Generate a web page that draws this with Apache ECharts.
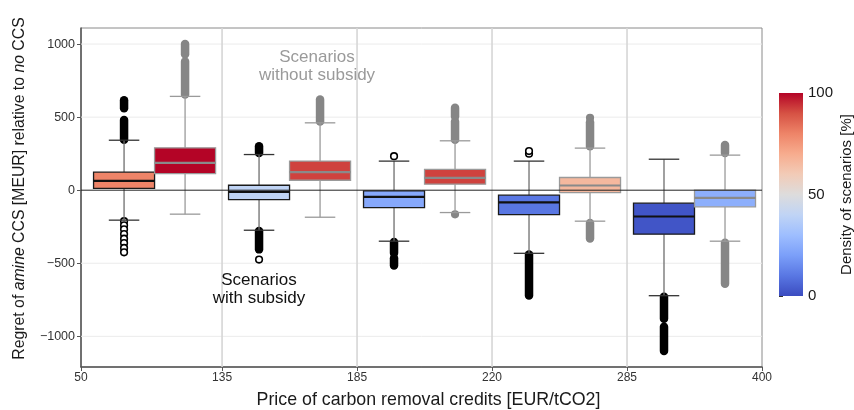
<!DOCTYPE html>
<html>
<head>
<meta charset="utf-8">
<script src="https://cdn.jsdelivr.net/npm/echarts@6/dist/echarts.min.js"></script>
<style>
  html, body { margin: 0; padding: 0; background: #fff; }
  #chart { width: 854px; height: 410px; }
</style>
</head>
<body>
<div id="chart"></div>
<script>
// Price bands of carbon removal credits (band edges, EUR/tCO2)
const priceTicks = [50, 135, 185, 220, 285, 400];

// Box statistics per price band: [lower whisker, Q1, median, Q3, upper whisker] (MEUR)
const withSubsidy = [
  [-205, 12, 64, 123, 342],
  [-274, -64, -11, 34, 244],
  [-349, -119, -46, -5, 199],
  [-432, -167, -84, -34, 199],
  [-722, -301, -180, -89, 212]
];
const withoutSubsidy = [
  [-164, 114, 187, 290, 642],
  [-185, 68, 123, 199, 461],
  [-153, 41, 84, 142, 338],
  [-212, -16, 32, 87, 288],
  [-349, -114, -53, 0, 240]
];

// Density of scenarios [%] per box
const densityWith = [80, 40, 23, 10, 2];
const densityWithout = [100, 92, 92, 66, 25];

// Outliers per band: [from, to] spans of densely packed points; single points have from == to
const outliersWith = [
  [[345, 480], [560, 615], [-212, -212], [-240, -240], [-268, -268], [-300, -300], [-332, -332], [-362, -362], [-395, -395], [-425, -425]],
  [[255, 300], [-280, -405], [-475, -475]],
  [[233, 233], [-355, -430], [-465, -515]],
  [[250, 250], [268, 268], [-440, -720]],
  [[-730, -880], [-935, -1100]]
];
const outliersWithout = [
  [[655, 880], [930, 1000]],
  [[470, 620]],
  [[345, 470], [505, 565], [-165, -165]],
  [[300, 465], [495, 495], [-225, -330]],
  [[255, 310], [-360, -640]]
];

const yTickValues = [-1000, -500, 0, 500, 1000];
const colorbarTicks = [0, 50, 100];

// Colour map (cool-to-warm, low to high density)
const coolwarm = ['#3b4cc0', '#5977e3', '#7b9ff9', '#9ebeff', '#c0d4f5', '#dddcdc',
                  '#f2cbb7', '#f7ac8e', '#ee8468', '#d65244', '#b40426'];

const FONT = 'Liberation Sans, Arial, sans-serif';
const BOX_HALF = 0.226;      // half box width in band units
const X_MIN = -0.045;        // axis starts a little left of the first band

function boxData(stats, density) {
  return stats.map((s, i) => [i].concat(s, [density[i]]));
}
function outlierData(spans) {
  const out = [];
  spans.forEach((list, i) => list.forEach(sp => out.push([i, sp[0], sp[1]])));
  return out;
}

function boxRenderer(side, look) {
  return function (params, api) {
    const band = api.value(0);
    const xc = band + 0.5 + side * BOX_HALF;
    const half = api.size([BOX_HALF, 0])[0];
    const lo = api.coord([xc, api.value(1)]);
    const q1 = api.coord([xc, api.value(2)]);
    const md = api.coord([xc, api.value(3)]);
    const q3 = api.coord([xc, api.value(4)]);
    const hi = api.coord([xc, api.value(5)]);
    const cx = lo[0];
    const cap = half * 0.5;
    const fill = echarts.color.lerp(api.value(6) / 100, coolwarm);
    const ln = (x1, y1, x2, y2, color, w) => ({
      type: 'line', shape: { x1, y1, x2, y2 },
      style: { stroke: color, lineWidth: w }
    });
    return {
      type: 'group',
      children: [
        ln(cx, q3[1], cx, hi[1], look.whisker, 1.3),
        ln(cx, q1[1], cx, lo[1], look.whisker, 1.3),
        ln(cx - cap, hi[1], cx + cap, hi[1], look.cap, 1.3),
        ln(cx - cap, lo[1], cx + cap, lo[1], look.cap, 1.3),
        {
          type: 'rect',
          shape: { x: cx - half, y: q3[1], width: half * 2, height: q1[1] - q3[1] },
          style: { fill: fill, stroke: look.edge, lineWidth: 1.3 }
        },
        ln(cx - half, md[1], cx + half, md[1], look.median, 2.2)
      ]
    };
  };
}

function outlierRenderer(side, look) {
  return function (params, api) {
    const band = api.value(0);
    const xc = band + 0.5 + side * BOX_HALF;
    const a = api.coord([xc, api.value(1)]);
    const b = api.coord([xc, api.value(2)]);
    if (api.value(1) === api.value(2)) {
      return {
        type: 'circle',
        shape: { cx: a[0], cy: a[1], r: 3.3 },
        style: { fill: look.fill, stroke: look.stroke, lineWidth: 1.6 }
      };
    }
    return {
      type: 'line',
      shape: { x1: a[0], y1: a[1], x2: b[0], y2: b[1] },
      style: { stroke: look.stroke, lineWidth: 8.5, lineCap: 'round' }
    };
  };
}

const withLook = { edge: '#1a1a1a', median: '#111', whisker: '#6e6e6e', cap: '#333' };
const withoutLook = { edge: '#9a9a9a', median: '#8a8a8a', whisker: '#9a9a9a', cap: '#9a9a9a' };

const chart = echarts.init(document.getElementById('chart'), null, { renderer: 'canvas' });

const option = {
  animation: false,
  backgroundColor: '#fff',
  textStyle: { fontFamily: FONT },
  grid: [
    { left: 81, top: 28, width: 681, height: 339, show: true, borderColor: '#8a8a8a', borderWidth: 1,
      containLabel: false, outerBoundsMode: 'none' },
    { left: 779, top: 93, width: 24, height: 203, containLabel: false, outerBoundsMode: 'none' }
  ],
  xAxis: [
    {
      type: 'value', gridIndex: 0, min: X_MIN, max: 5,
      name: 'Price of carbon removal credits [EUR/tCO2]',
      nameLocation: 'middle', nameGap: 24,
      nameTextStyle: { fontSize: 17.8, color: '#1a1a1a', fontFamily: FONT, padding: [0, 0, 0, 14] },
      axisLine: { show: true, onZero: false, lineStyle: { color: '#555', width: 1.5 } },
      axisTick: { show: true, length: 4, customValues: [X_MIN, 1, 2, 3, 4, 5], lineStyle: { color: '#555' } },
      axisLabel: {
        customValues: [X_MIN, 1, 2, 3, 4, 5],
        fontSize: 12, color: '#333', margin: 5,
        fontFamily: 'Liberation Sans Narrow, Arial Narrow, ' + FONT,
        formatter: v => String(priceTicks[Math.max(0, Math.round(v))])
      },
      splitLine: { show: false }
    },
    { type: 'value', gridIndex: 1, min: 0, max: 1, show: false }
  ],
  yAxis: [
    {
      type: 'value', gridIndex: 0, min: -1210, max: 1110,
      name: '{n|Regret of }{i|amine}{n| CCS [MEUR] relative to }{i|no}{n| CCS}',
      nameLocation: 'middle', nameRotate: 90, nameGap: 53,
      nameTextStyle: {
        color: '#1a1a1a',
        padding: [0, 0, 0, 18],
        rich: {
          n: { fontSize: 15.8, fontFamily: FONT, color: '#1a1a1a' },
          i: { fontSize: 15.8, fontFamily: FONT, fontStyle: 'italic', color: '#1a1a1a' }
        }
      },
      axisLine: { show: true, onZero: false, lineStyle: { color: '#555', width: 1.5 } },
      axisTick: { show: true, length: 4, customValues: yTickValues, lineStyle: { color: '#555' } },
      axisLabel: {
        customValues: yTickValues,
        fontSize: 12.5, color: '#333', margin: 6,
        formatter: v => String(v).replace('-', '\u2212')
      },
      splitLine: { show: false }
    },
    {
      type: 'value', gridIndex: 1, min: 0, max: 100, interval: 50, position: 'right',
      name: 'Density of scenarios [%]', nameLocation: 'middle', nameRotate: 90, nameGap: 36,
      nameTextStyle: { fontSize: 15, color: '#1a1a1a', fontFamily: FONT },
      axisLine: { show: false },
      axisTick: { show: true, length: 4, lineStyle: { color: '#333' } },
      axisLabel: { fontSize: 15, color: '#1a1a1a', margin: 5 },
      splitLine: { show: false }
    }
  ],
  series: [
    // horizontal grid lines
    {
      type: 'custom', xAxisIndex: 0, yAxisIndex: 0, z: 1, silent: true,
      data: yTickValues.filter(v => v !== 0).map(v => [v]),
      encode: { y: 0 },
      renderItem: (params, api) => {
        const y = api.coord([0, api.value(0)])[1];
        const cs = params.coordSys;
        return { type: 'line', shape: { x1: cs.x, y1: y, x2: cs.x + cs.width, y2: y },
                 style: { stroke: '#ebebeb', lineWidth: 1 } };
      }
    },
    // vertical lines at price band edges
    {
      type: 'custom', xAxisIndex: 0, yAxisIndex: 0, z: 1, silent: true,
      data: [1, 2, 3, 4].map(v => [v]),
      encode: { x: 0 },
      renderItem: (params, api) => {
        const x = api.coord([api.value(0), 0])[0];
        const cs = params.coordSys;
        return { type: 'line', shape: { x1: x, y1: cs.y, x2: x, y2: cs.y + cs.height },
                 style: { stroke: '#d6d6d6', lineWidth: 1.6 } };
      }
    },
    // outliers
    {
      type: 'custom', name: 'outliers with subsidy', xAxisIndex: 0, yAxisIndex: 0, z: 2,
      data: outlierData(outliersWith), encode: { x: 0, y: [1, 2] },
      renderItem: outlierRenderer(-1, { fill: '#fff', stroke: '#000' })
    },
    {
      type: 'custom', name: 'outliers without subsidy', xAxisIndex: 0, yAxisIndex: 0, z: 2,
      data: outlierData(outliersWithout), encode: { x: 0, y: [1, 2] },
      renderItem: outlierRenderer(1, { fill: '#868686', stroke: '#868686' })
    },
    // boxes
    {
      type: 'custom', name: 'with subsidy', xAxisIndex: 0, yAxisIndex: 0, z: 3,
      data: boxData(withSubsidy, densityWith), encode: { x: 0, y: [1, 2, 3, 4, 5] },
      renderItem: boxRenderer(-1, withLook)
    },
    {
      type: 'custom', name: 'without subsidy', xAxisIndex: 0, yAxisIndex: 0, z: 3,
      data: boxData(withoutSubsidy, densityWithout), encode: { x: 0, y: [1, 2, 3, 4, 5] },
      renderItem: boxRenderer(1, withoutLook)
    },
    // zero line
    {
      type: 'custom', xAxisIndex: 0, yAxisIndex: 0, z: 4, silent: true,
      data: [[0]], encode: { y: 0 },
      renderItem: (params, api) => {
        const y = api.coord([0, api.value(0)])[1];
        const cs = params.coordSys;
        return { type: 'line', shape: { x1: cs.x, y1: y, x2: cs.x + cs.width, y2: y },
                 style: { stroke: '#222', lineWidth: 1 } };
      }
    },
    // colour bar
    {
      type: 'custom', xAxisIndex: 1, yAxisIndex: 1, z: 2, silent: true,
      data: [[0, colorbarTicks[0], colorbarTicks[colorbarTicks.length - 1]]],
      encode: { x: 0, y: [1, 2] },
      renderItem: (params, api) => {
        const bottom = api.coord([0, api.value(1)]);
        const top = api.coord([1, api.value(2)]);
        const stops = coolwarm.map((c, i) => ({ offset: 1 - i / (coolwarm.length - 1), color: c }));
        stops.reverse();
        return {
          type: 'rect',
          shape: { x: bottom[0], y: top[1], width: top[0] - bottom[0], height: bottom[1] - top[1] },
          style: { fill: new echarts.graphic.LinearGradient(0, 0, 0, 1, stops) }
        };
      }
    }
  ],
  graphic: [
    {
      type: 'text', x: 317, y: 48, z: 10,
      style: {
        text: 'Scenarios\nwithout subsidy', align: 'center', verticalAlign: 'top',
        fill: '#9a9a9a', fontSize: 17, lineHeight: 18, fontFamily: FONT
      }
    },
    {
      type: 'text', x: 259, y: 271, z: 10,
      style: {
        text: 'Scenarios\nwith subsidy', align: 'center', verticalAlign: 'top',
        fill: '#111', fontSize: 17, lineHeight: 18, fontFamily: FONT
      }
    }
  ]
};

chart.setOption(option);
</script>
</body>
</html>
